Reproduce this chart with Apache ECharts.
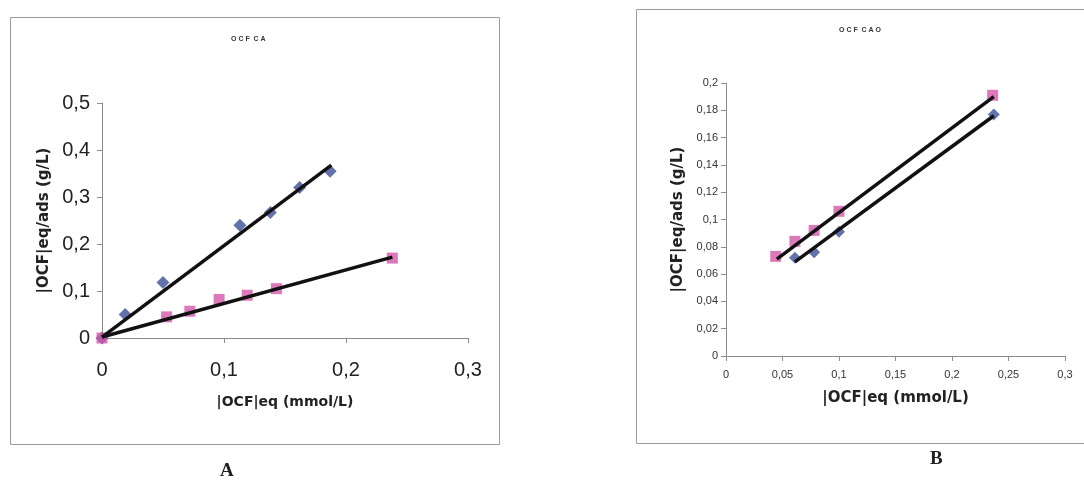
<!DOCTYPE html>
<html>
<head>
<meta charset="utf-8">
<title>OCF CA / OCF CAO</title>
<script src="https://cdn.jsdelivr.net/npm/echarts@6/dist/echarts.min.js"></script>
<style>
  html, body { margin: 0; padding: 0; background: #ffffff; }
  #chart { width: 1084px; height: 482px; }
</style>
</head>
<body>
<div id="chart"></div>
<script>
// Panel A (OCF CA): measured points
const aBlueX = [0, 0.019, 0.05, 0.113, 0.138, 0.162, 0.187];
const aBlueY = [0, 0.05, 0.118, 0.24, 0.267, 0.32, 0.355];
const aPinkX = [0, 0.053, 0.072, 0.096, 0.119, 0.143, 0.238];
const aPinkY = [0, 0.045, 0.057, 0.082, 0.091, 0.105, 0.17];
// Panel A trend lines (start and end points)
const aBlueTrend = [[0, 0.002], [0.188, 0.368]];
const aPinkTrend = [[0, 0.002], [0.238, 0.172]];

// Panel B (OCF CAO): measured points
const bPinkX = [0.044, 0.061, 0.078, 0.1, 0.236];
const bPinkY = [0.073, 0.084, 0.092, 0.106, 0.191];
const bBlueX = [0.061, 0.078, 0.1, 0.237];
const bBlueY = [0.072, 0.076, 0.091, 0.177];
// Panel B trend lines
const bPinkTrend = [[0.045, 0.071], [0.237, 0.19]];
const bBlueTrend = [[0.061, 0.069], [0.237, 0.176]];

// Texts
const titleA = 'O C F  C A';
const titleB = 'O C F  C A O';
const xName = '|OCF|eq (mmol/L)';
const yName = '|OCF|eq/ads (g/L)';

const BLUE = '#3d4f96';
const PINK = '#d257a9';
const FRAME = '#9a9aa8';
const NAME_FONT = '"DejaVu Sans", Verdana, sans-serif';

const zip = (xs, ys) => xs.map((x, i) => [x, ys[i]]);
const comma = v => String(+v.toFixed(3)).replace('.', ',');

const chart = echarts.init(document.getElementById('chart'), null, { renderer: 'canvas' });

const axisLine = { show: true, lineStyle: { color: '#8c8c8c', width: 1 } };
const axisTick = { show: true, length: 5, lineStyle: { color: '#8c8c8c' } };

const option = {
  backgroundColor: '#ffffff',
  animation: false,
  textStyle: { fontFamily: 'Liberation Sans, Arial, sans-serif' },
  title: [
    { text: titleA, left: 226, top: 31, textStyle: { fontSize: 7, fontWeight: 'bold', color: '#333' } },
    { text: titleB, left: 834, top: 22, textStyle: { fontSize: 7, fontWeight: 'bold', color: '#333' } }
  ],
  graphic: [
    { type: 'rect', shape: { x: 10.5, y: 17.5, width: 489, height: 427 }, style: { fill: 'none', stroke: FRAME, lineWidth: 1 }, z: -1 },
    { type: 'rect', shape: { x: 636.5, y: 9.5, width: 470, height: 434 }, style: { fill: 'none', stroke: FRAME, lineWidth: 1 }, z: -1 },
    { type: 'text', left: 220, top: 462, style: { text: 'A', font: 'bold 19px "Liberation Serif", serif', fill: '#222' } },
    { type: 'text', left: 930, top: 450, style: { text: 'B', font: 'bold 19px "Liberation Serif", serif', fill: '#222' } }
  ],
  grid: [
    { left: 102, top: 103, width: 366, height: 235 },
    { left: 726, top: 83, width: 339, height: 273 }
  ],
  xAxis: [
    {
      gridIndex: 0, type: 'value', min: 0, max: 0.3, interval: 0.1,
      splitLine: { show: false }, axisLine, axisTick,
      axisLabel: { fontSize: 20, color: '#222', margin: 22, formatter: comma },
      name: xName, nameLocation: 'middle', nameGap: 57,
      nameTextStyle: { fontSize: 14, fontWeight: 'bold', color: '#222', fontFamily: NAME_FONT }
    },
    {
      gridIndex: 1, type: 'value', min: 0, max: 0.3, interval: 0.05,
      splitLine: { show: false }, axisLine, axisTick,
      axisLabel: { fontSize: 11, color: '#333', margin: 13, formatter: comma },
      name: xName, nameLocation: 'middle', nameGap: 35,
      nameTextStyle: { fontSize: 15, fontWeight: 'bold', color: '#222', fontFamily: NAME_FONT }
    }
  ],
  yAxis: [
    {
      gridIndex: 0, type: 'value', min: 0, max: 0.5, interval: 0.1,
      splitLine: { show: false }, axisLine, axisTick,
      axisLabel: { fontSize: 20, color: '#222', margin: 12, formatter: comma },
      name: yName, nameLocation: 'middle', nameGap: 50,
      nameTextStyle: { fontSize: 15, fontWeight: 'bold', color: '#222', fontFamily: NAME_FONT }
    },
    {
      gridIndex: 1, type: 'value', min: 0, max: 0.2, interval: 0.02,
      splitLine: { show: false }, axisLine, axisTick,
      axisLabel: { fontSize: 11, color: '#333', margin: 8, formatter: comma },
      name: yName, nameLocation: 'middle', nameGap: 40,
      nameTextStyle: { fontSize: 15, fontWeight: 'bold', color: '#222', fontFamily: NAME_FONT }
    }
  ],
  series: [
    { type: 'scatter', xAxisIndex: 0, yAxisIndex: 0, data: zip(aBlueX, aBlueY),
      symbol: 'diamond', symbolSize: 13, itemStyle: { color: BLUE }, z: 2 },
    { type: 'scatter', xAxisIndex: 0, yAxisIndex: 0, data: zip(aPinkX, aPinkY),
      symbol: 'rect', symbolSize: 11, itemStyle: { color: PINK }, z: 2 },
    { type: 'line', xAxisIndex: 0, yAxisIndex: 0, data: aBlueTrend, symbol: 'none',
      lineStyle: { color: '#111', width: 3.5 }, z: 3 },
    { type: 'line', xAxisIndex: 0, yAxisIndex: 0, data: aPinkTrend, symbol: 'none',
      lineStyle: { color: '#111', width: 3.5 }, z: 3 },

    { type: 'scatter', xAxisIndex: 1, yAxisIndex: 1, data: zip(bBlueX, bBlueY),
      symbol: 'diamond', symbolSize: 12, itemStyle: { color: BLUE }, z: 2 },
    { type: 'scatter', xAxisIndex: 1, yAxisIndex: 1, data: zip(bPinkX, bPinkY),
      symbol: 'rect', symbolSize: 11, itemStyle: { color: PINK }, z: 2 },
    { type: 'line', xAxisIndex: 1, yAxisIndex: 1, data: bPinkTrend, symbol: 'none',
      lineStyle: { color: '#111', width: 3.5 }, z: 3 },
    { type: 'line', xAxisIndex: 1, yAxisIndex: 1, data: bBlueTrend, symbol: 'none',
      lineStyle: { color: '#111', width: 3.5 }, z: 3 }
  ]
};

chart.setOption(option);
</script>
</body>
</html>
